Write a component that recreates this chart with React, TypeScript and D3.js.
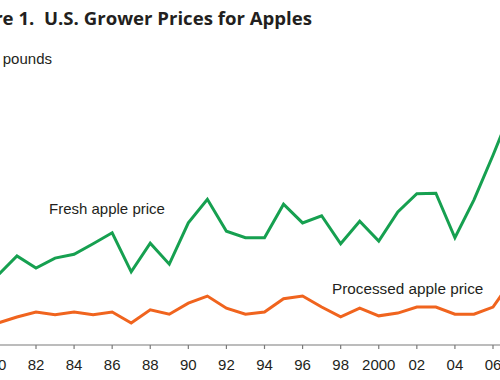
import React from "react";
import * as d3 from "d3";

const years: number[] = [1980,1981,1982,1983,1984,1985,1986,1987,1988,1989,1990,1991,1992,1993,1994,1995,1996,1997,1998,1999,2000,2001,2002,2003,2004,2005,2006,2007];
const freshPrice: number[] = [12.7,16.2,14.0,15.8,16.5,18.4,20.4,13.3,18.5,14.7,22.2,26.5,20.7,19.5,19.5,25.6,22.2,23.5,18.4,22.5,18.9,24.2,27.5,27.6,19.5,26.4,34.5,43.0];
const processedPrice: number[] = [4.0,5.1,6.0,5.5,6.0,5.5,6.0,4.0,6.4,5.6,7.6,8.9,6.7,5.6,6.0,8.4,8.9,6.9,5.1,6.7,5.3,5.8,6.9,6.9,5.6,5.6,6.9,11.8];
const tickYears: number[] = [1980,1982,1984,1986,1988,1990,1992,1994,1996,1998,2000,2002,2004,2006];
const tickLabels: string[] = ["80","82","84","86","88","90","92","94","96","98","2000","02","04","06"];
const titleText = "Figure 1.\u00a0\u00a0U.S. Grower Prices for Apples";
const unitText = "pounds";
const freshLabel = "Fresh apple price";
const processedLabel = "Processed apple price";

export default function App() {
  const W = 500, H = 380;
  const x = d3.scaleLinear().domain([1982, 2006]).range([36, 493]);
  const y = d3.scaleLinear().domain([0, 40]).range([345, 125]);
  const line = d3.line<number>().x((_, i) => x(years[i])).y((d) => y(d));
  const font = "Liberation Sans, Arial, Helvetica, sans-serif";
  return (
    <svg width={W} height={H} style={{ position: "absolute", left: 0, top: 0, background: "#fff" }}>
      <text x={312} y={25} textAnchor="end" fontFamily="Open Sans, sans-serif" fontWeight={700} fontSize={18.6} fill="#231f20">{titleText}</text>
      <text x={52} y={64} textAnchor="end" fontFamily={font} fontSize={15} fill="#231f20">{unitText}</text>
      <line x1={0} x2={W} y1={y(0)} y2={y(0)} stroke="#7a7a7a" strokeWidth={1.2} />
      {tickYears.map((t, i) => (
        <g key={t}>
          <line x1={x(t)} x2={x(t)} y1={y(0)} y2={y(0) + 4} stroke="#7a7a7a" strokeWidth={1.2} />
          <text x={x(t)} y={369.5} textAnchor="middle" fontFamily={font} fontSize={15} fill="#231f20">{tickLabels[i]}</text>
        </g>
      ))}
      <path d={line(freshPrice) || ""} fill="none" stroke="#16a050" strokeWidth={3} strokeLinejoin="miter" />
      <path d={line(processedPrice) || ""} fill="none" stroke="#f0641e" strokeWidth={3} strokeLinejoin="miter" />
      <text x={49} y={214} fontFamily={font} fontSize={15} fill="#231f20">{freshLabel}</text>
      <text x={332} y={294} fontFamily={font} fontSize={15.3} fill="#231f20">{processedLabel}</text>
    </svg>
  );
}
